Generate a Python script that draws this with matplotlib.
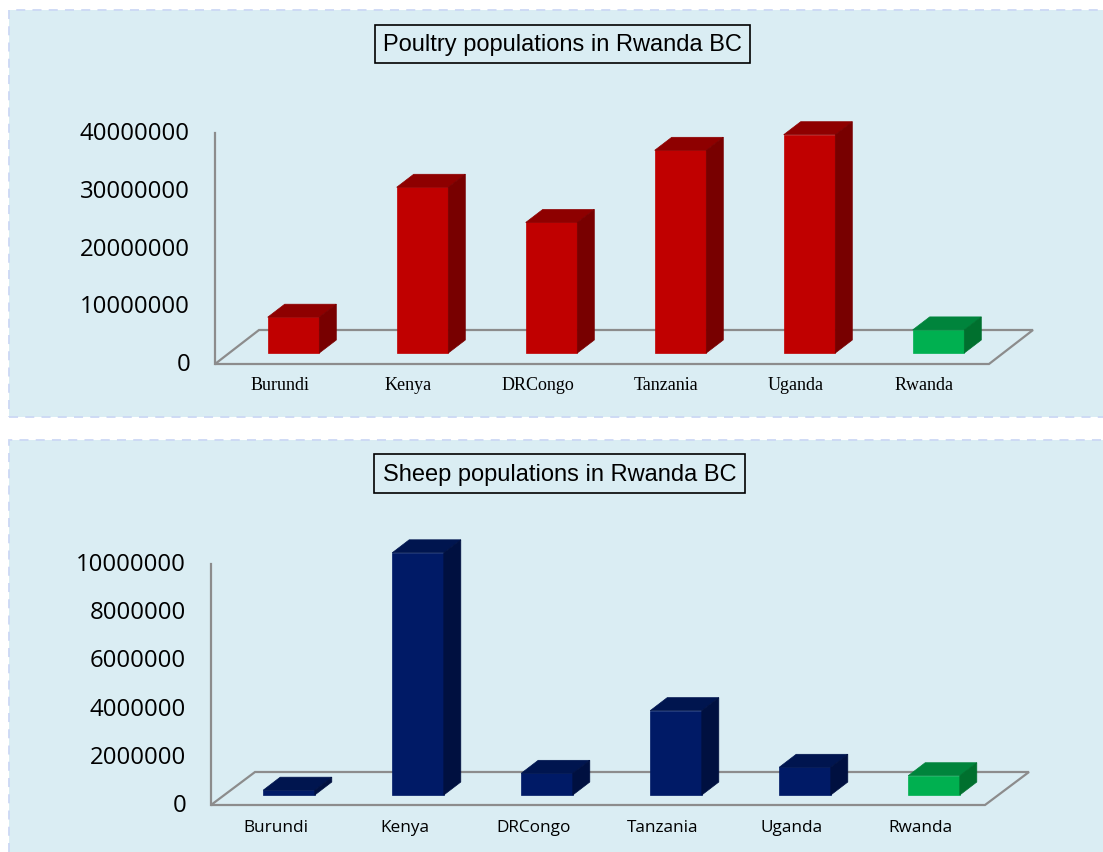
import matplotlib
matplotlib.use('Agg')
import matplotlib.pyplot as plt
import matplotlib.transforms as mtransforms
from matplotlib.patches import Polygon, Rectangle

countries = ['Burundi', 'Kenya', 'DRCongo', 'Tanzania', 'Uganda', 'Rwanda']
poultry = [6200000, 28700000, 22600000, 35100000, 37800000, 4000000]
sheep = [200000, 10050000, 900000, 3500000, 1150000, 800000]
poultry_ticks = [0, 10000000, 20000000, 30000000, 40000000]
sheep_ticks = [0, 2000000, 4000000, 6000000, 8000000, 10000000]

W, H = 1103, 853
BG = '#daedf3'
FLOOR = '#8c8c8c'

red = ('#c00000', '#8e0000', '#780000')
blue = ('#001a66', '#00154f', '#001040')
green = ('#00b050', '#00843c', '#00702e')

fig = plt.figure(figsize=(W / 100, H / 100), dpi=100)


def panel(y0, y1):
    r = Rectangle((9 / W, 1 - y1 / H), 1.2, (y1 - y0) / H, transform=fig.transFigure,
                  facecolor=BG, edgecolor='#ccd8f4', lw=1.3, ls=(0, (5, 4)), zorder=0)
    fig.add_artist(r)


panel(11, 418)
panel(441, 900)


def px_to_data(ax, dx, dy):
    inv = ax.transData.inverted()
    o = ax.transData.transform((0, 0))
    p = inv.transform((o[0] + dx, o[1] + dy))
    q = inv.transform(o)
    return p[0] - q[0], p[1] - q[1]


def chart(rect, values, ticks, top, main_col, floor_d, bar_shift, cat_font, cat_size, cat_off):
    ax = fig.add_axes([rect[0] / W, 1 - rect[1] / H, rect[2] / W, rect[3] / H])
    ax.set_xlim(-0.5, len(values) - 0.5)
    ax.set_ylim(0, top)
    ax.axis('off')
    fdx, fdy = px_to_data(ax, *floor_d)
    sdx, sdy = px_to_data(ax, *bar_shift)
    bdx, bdy = px_to_data(ax, 17, 13)
    n = len(values)
    # floor and wall edge
    floor = Polygon([(-0.5, 0), (n - 0.5, 0), (n - 0.5 + fdx, fdy), (-0.5 + fdx, fdy)],
                    closed=True, fill=False, edgecolor=FLOOR, lw=1.6, clip_on=False, zorder=1)
    ax.add_patch(floor)
    ax.plot([-0.5, -0.5], [0, top], color=FLOOR, lw=1.6, clip_on=False, zorder=1)

    w = 0.4
    xs = [i + sdx for i in range(n)]
    cols = [green if c == 'Rwanda' else main_col for c in countries]
    bars = ax.bar(xs, values, width=w, bottom=sdy, color=[c[0] for c in cols],
                  edgecolor=[c[0] for c in cols], lw=0.5, zorder=3, clip_on=False)
    for b, v, c in zip(bars, values, cols):
        x0 = b.get_x()
        x1 = x0 + w
        yt = v + sdy
        ax.add_patch(Polygon([(x0, yt), (x1, yt), (x1 + bdx, yt + bdy), (x0 + bdx, yt + bdy)],
                             closed=True, facecolor=c[1], edgecolor=c[1], lw=0.5,
                             clip_on=False, zorder=3))
        ax.add_patch(Polygon([(x1, sdy), (x1, yt), (x1 + bdx, yt + bdy), (x1 + bdx, sdy + bdy)],
                             closed=True, facecolor=c[2], edgecolor=c[2], lw=0.5,
                             clip_on=False, zorder=3))

    tl = ax.transData + mtransforms.ScaledTranslation(-25 / 100, 0, fig.dpi_scale_trans)
    for t in ticks:
        ax.text(-0.5, t, str(t), transform=tl, ha='right', va='center',
                fontsize=17.3, family='Open Sans', color='black')
    cl = ax.transData + mtransforms.ScaledTranslation(0, -cat_off / 100, fig.dpi_scale_trans)
    for i, c in enumerate(countries):
        ax.text(i, 0, c, transform=cl, ha='center', va='center',
                fontsize=cat_size, family=cat_font, color='black')
    return ax


chart((215, 365, 774, 231), poultry, poultry_ticks, 40000000, red, (44, 34), (14, 11),
      'Liberation Serif', 13, 21)
chart((211, 806, 774, 241), sheep, sheep_ticks, 10000000, blue, (44, 33), (13.5, 10),
      'Open Sans', 12.4, 22)

box = dict(boxstyle='square,pad=0.35', facecolor=BG, edgecolor='black', lw=1.2)
fig.text(562.5 / W, 1 - 45 / H, 'Poultry populations in Rwanda BC', ha='center', va='center',
         fontsize=17, family='Liberation Sans', bbox=box)
fig.text(559.5 / W, 1 - 474.5 / H, 'Sheep populations in Rwanda BC', ha='center', va='center',
         fontsize=17, family='Liberation Sans', bbox=box)

fig.savefig('out.png', dpi=100)
